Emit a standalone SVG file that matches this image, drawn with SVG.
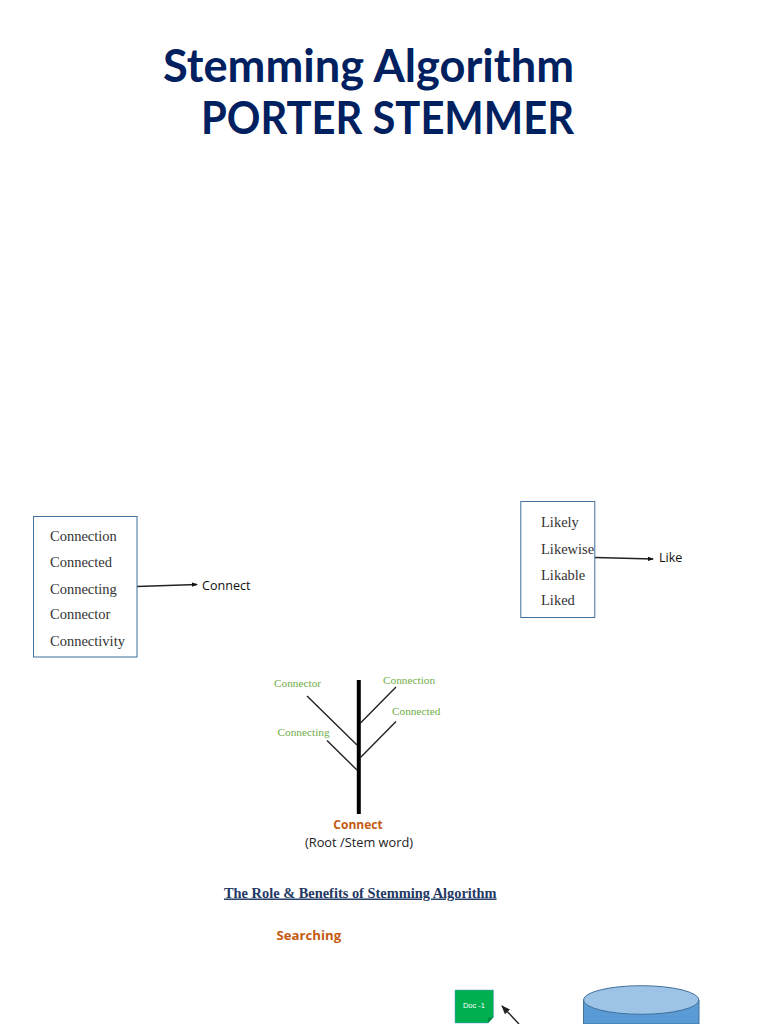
<svg xmlns="http://www.w3.org/2000/svg" width="768" height="1024" viewBox="0 0 768 1024">
<style>
.title{font-family:Lato,"Noto Sans",sans-serif;font-weight:700;font-size:45px;fill:#002060}
.serif{font-family:"Liberation Serif",serif;font-size:14.500px;fill:#333}
.sans{font-family:"Open Sans","Noto Sans",sans-serif;font-size:12.600px;fill:#111}
.green{font-family:"Liberation Serif",serif;font-size:11.300px;fill:#70ad47}
.box{fill:#fff;stroke:#41719c;stroke-width:1}
.ln{stroke:#222;stroke-width:1.4;fill:none}
</style>
<defs>
<marker id="a" markerWidth="6" markerHeight="6" refX="5" refY="3" orient="auto" markerUnits="userSpaceOnUse"><path d="M0 0.8L6 3L0 5.2z" fill="#111"/></marker>
<marker id="b" markerWidth="9" markerHeight="8" refX="8" refY="4" orient="auto" markerUnits="userSpaceOnUse"><path d="M0 0.5L9 4L0 7.5z" fill="#222"/></marker>
</defs>
<rect width="768" height="1024" fill="#fff"/>
<g id="title">
<text class="title" x="163" y="82" textLength="411" lengthAdjust="spacingAndGlyphs">Stemming Algorithm</text>
<text class="title" x="201" y="134" textLength="373" lengthAdjust="spacingAndGlyphs">PORTER STEMMER</text>
</g>
<g id="connectors">
<path class="ln" d="M137 586.500L197 584.500" marker-end="url(#a)"/>
<path class="ln" d="M595 557.500L653 559" marker-end="url(#a)"/>
<path class="ln" d="M519 1024L502 1006" marker-end="url(#b)" stroke-width="1"/>
</g>
<g id="node-connect-box">
<rect class="box" x="33.500" y="516.500" width="103.500" height="140.500"/>
<text class="serif" x="50" y="541">Connection</text>
<text class="serif" x="50" y="567">Connected</text>
<text class="serif" x="50" y="594">Connecting</text>
<text class="serif" x="50" y="619">Connector</text>
<text class="serif" x="50" y="646">Connectivity</text>
</g>
<g id="node-connect"><text class="sans" x="202" y="590">Connect</text></g>
<g id="node-like-box">
<rect class="box" x="520.800" y="501.500" width="74" height="116"/>
<text class="serif" x="541" y="527">Likely</text>
<text class="serif" x="541" y="554">Likewise</text>
<text class="serif" x="541" y="580">Likable</text>
<text class="serif" x="541" y="605">Liked</text>
</g>
<g id="node-like"><text class="sans" x="659" y="562">Like</text></g>
<g id="node-tree">
<path d="M358.800 680V814" stroke="#000" stroke-width="4" fill="none"/>
<path class="ln" d="M307 696L357 745M327 740.500L357 770M396 687L360 723.500M396 721.500L360 758"/>
<text class="green" x="274" y="687">Connector</text>
<text class="green" x="383" y="684">Connection</text>
<text class="green" x="392" y="715">Connected</text>
<text class="green" x="277.500" y="736">Connecting</text>
<text x="358" y="829" text-anchor="middle" font-family="'Open Sans','Noto Sans',sans-serif" font-size="12" font-weight="700" fill="#c55a11">Connect</text>
<text x="359" y="847" text-anchor="middle" font-family="'Open Sans','Noto Sans',sans-serif" font-size="12.800" fill="#222">(Root /Stem word)</text>
</g>
<g id="node-heading">
<text x="224" y="897.500" font-family="'Liberation Serif',serif" font-size="14.400" font-weight="700" fill="#1f3864" text-decoration="underline">The Role &amp; Benefits of Stemming Algorithm</text>
<text x="276.500" y="939.500" font-family="'Open Sans','Noto Sans',sans-serif" font-size="13.200" font-weight="700" fill="#c55a11">Searching</text>
</g>
<g id="node-doc">
<path d="M455 990H493.500V1017L488 1023H455z" fill="#00b050" stroke="#5b9bd5" stroke-width=".5"/>
<path d="M493.500 1017L488 1018V1023z" fill="#008a3e"/>
<text x="474" y="1008" text-anchor="middle" font-family="'Liberation Sans',sans-serif" font-size="7.500" fill="#fff">Doc -1</text>
</g>
<g id="node-db">
<path d="M583.500 1000V1024H699V1000z" fill="#5b9bd5" stroke="#41719c"/>
<ellipse cx="641.200" cy="1000" rx="57.700" ry="14.300" fill="#9dc3e6" stroke="#41719c"/>
</g>
</svg>
